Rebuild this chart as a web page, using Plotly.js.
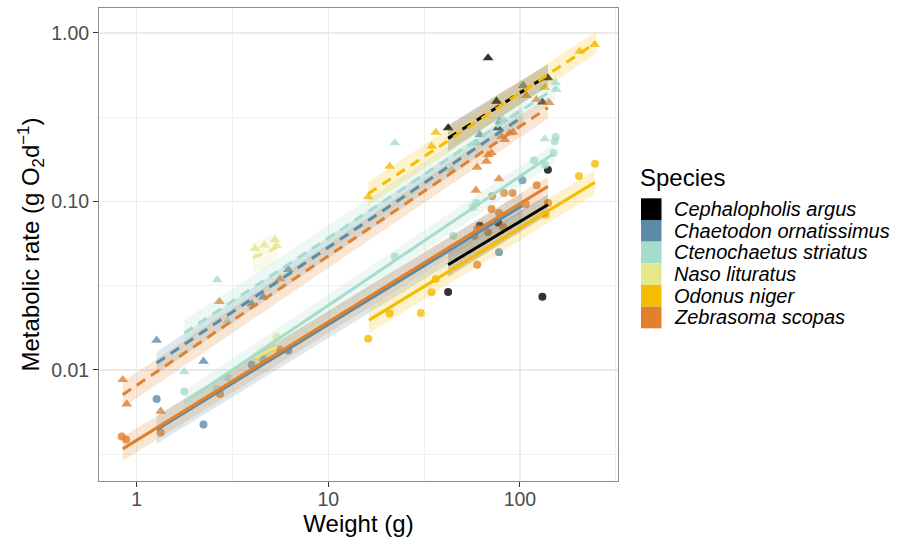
<!DOCTYPE html>
<html><head><meta charset="utf-8">
<script src="https://cdn.plot.ly/plotly-3.0.1.min.js"></script>
<style>html,body{margin:0;padding:0;background:#fff}#chart{width:906px;height:537px}</style>
</head><body><div id="chart"></div>
<script>
// ---------- data ----------
const species = ["Cephalopholis argus","Chaetodon ornatissimus","Ctenochaetus striatus","Naso lituratus","Odonus niger","Zebrasoma scopas"];

// maximum metabolic rate (triangles) and resting rate (circles): weight (g), rate (g O2 d-1)
const cephalopholisMaxW = [42.2, 68.2, 75.5, 76.9, 131, 140];
const cephalopholisMaxR = [0.273, 0.711, 0.393, 0.273, 0.388, 0.541];
const cephalopholisRestW = [42.2, 61.8, 76.9, 131, 140];
const cephalopholisRestR = [0.0290, 0.0718, 0.0751, 0.0272, 0.154];

const chaetodonMaxW = [1.27, 2.23, 3.98, 4.57, 6.18, 61.8, 78.5, 104];
const chaetodonMaxR = [0.0150, 0.01125, 0.0247, 0.0271, 0.0394, 0.249, 0.299, 0.487];
const chaetodonRestW = [1.27, 2.23, 3.98, 4.57, 6.18, 77.8, 103];
const chaetodonRestR = [0.00673, 0.00474, 0.01075, 0.01162, 0.01306, 0.0499, 0.1334];

const ctenochaetusMaxW = [1.77, 2.63, 2.98, 22.2, 44.0, 59.3, 81.7, 134.8, 153.8, 155];
const ctenochaetusMaxR = [0.00977, 0.0343, 0.0194, 0.2224, 0.1544, 0.2224, 0.306, 0.235, 0.505, 0.4607];
const ctenochaetusRestW = [1.77, 2.61, 2.98, 22.2, 44.8, 57.0, 59.3, 118.6, 135.3, 150.2, 152, 153.8];
const ctenochaetusRestR = [0.00746, 0.00771, 0.00904, 0.0472, 0.0626, 0.0927, 0.098, 0.1753, 0.1653, 0.194, 0.2274, 0.2414];

const nasoMaxW = [4.14, 4.63, 5.27, 5.37];
const nasoMaxR = [0.0525, 0.0550, 0.0593, 0.0546];
const nasoRestW = [4.23, 4.71, 5.06, 5.37];
const nasoRestR = [0.01204, 0.01289, 0.0135, 0.0157];

const odonusMaxW = [16.15, 20.9, 34.6, 36.4, 134.8, 205, 245.6];
const odonusMaxR = [0.1063, 0.1615, 0.2123, 0.257, 0.4735, 0.778, 0.852];
const odonusRestW = [16.15, 20.9, 30.4, 34.6, 36.4, 136.5, 203.5, 246.6];
const odonusRestR = [0.01534, 0.0216, 0.0218, 0.0289, 0.0347, 0.0835, 0.1417, 0.1676];

const zebrasomaMaxW = [0.845, 0.887, 1.334, 2.70, 5.59, 58.9, 59.8, 66.9, 68.2, 71.1, 77.8, 80.2, 83.4, 88.5, 92.1, 108.2, 122, 142];
const zebrasomaMaxR = [0.00875, 0.00628, 0.00568, 0.0254, 0.0347, 0.1164, 0.1594, 0.173, 0.1895, 0.194, 0.136, 0.2433, 0.2327, 0.255, 0.257, 0.4246, 0.402, 0.386];
const zebrasomaRestW = [0.835, 0.88, 1.334, 2.72, 5.59, 57.7, 59.8, 59.8, 68.2, 71.1, 71.6, 77.8, 81.7, 82.7, 91.5, 107.3, 122.4, 140.3];
const zebrasomaRestR = [0.00403, 0.00386, 0.00426, 0.0072, 0.0132, 0.0626, 0.0687, 0.0421, 0.0656, 0.0902, 0.1072, 0.0855, 0.0706, 0.1123, 0.1123, 0.0967, 0.1246, 0.098];

const maxW = [cephalopholisMaxW, chaetodonMaxW, ctenochaetusMaxW, nasoMaxW, odonusMaxW, zebrasomaMaxW];
const maxR = [cephalopholisMaxR, chaetodonMaxR, ctenochaetusMaxR, nasoMaxR, odonusMaxR, zebrasomaMaxR];
const restW = [cephalopholisRestW, chaetodonRestW, ctenochaetusRestW, nasoRestW, odonusRestW, zebrasomaRestW];
const restR = [cephalopholisRestR, chaetodonRestR, ctenochaetusRestR, nasoRestR, odonusRestR, zebrasomaRestR];

// fitted lines with confidence bands (species index, kind, start/end weight, fit, lower, upper)
const fitSpecies = [0, 1, 2, 3, 4, 5, 0, 1, 2, 3, 4, 5];
const fitKind    = ["max","max","max","max","max","max","rest","rest","rest","rest","rest","rest"];
const fitW0  = [42.2, 1.27, 1.77, 4.04, 16.15, 0.845, 42.2, 1.27, 1.77, 4.14, 16.3, 0.845];
const fitW1  = [140, 104, 154, 5.39, 251, 140, 140, 103, 150, 5.39, 246, 140];
const fitR0  = [0.2368, 0.0110, 0.01658, 0.0464, 0.1112, 0.00713, 0.0421, 0.00442, 0.00642, 0.01178, 0.01975, 0.0034];
const fitR1  = [0.5616, 0.320, 0.4735, 0.0532, 0.8794, 0.3602, 0.0957, 0.0944, 0.1922, 0.0138, 0.1298, 0.1229];
const fitLo0 = [0.198, 0.00947, 0.01389, 0.0378, 0.0944, 0.00597, 0.0357, 0.00365, 0.00545, 0.01028, 0.01654, 0.00289];
const fitHi0 = [0.283, 0.01278, 0.0198, 0.0570, 0.131, 0.00851, 0.0496, 0.00535, 0.00756, 0.0135, 0.02358, 0.00401];
const fitLo1 = [0.483, 0.279, 0.402, 0.0433, 0.757, 0.310, 0.0835, 0.0791, 0.1677, 0.01204, 0.1102, 0.1072];
const fitHi1 = [0.653, 0.367, 0.558, 0.0653, 1.022, 0.4186, 0.1097, 0.1127, 0.2202, 0.01582, 0.1529, 0.1408];

const xTickVals = [1, 10, 100];
const xTickText = ["1", "10", "100"];
const yTickVals = [0.01, 0.1, 1];
const yTickText = ["0.01", "0.10", "1.00"];

// ---------- styles ----------
const colors = [[0,0,0],[90,140,168],[166,220,203],[229,232,138],[245,188,0],[226,128,44]];
const rgba = (c, a) => `rgba(${c[0]},${c[1]},${c[2]},${a})`;
const FONT = "Liberation Sans, Arial, Helvetica, sans-serif";

const traces = [];
// points
for (let s = 0; s < species.length; s++) {
  traces.push({type:"scatter", mode:"markers", x:maxW[s], y:maxR[s], showlegend:false, hoverinfo:"skip",
    marker:{symbol:"triangle-up", size:9.5, color:rgba(colors[s],0.8), line:{width:0}}});
  traces.push({type:"scatter", mode:"markers", x:restW[s], y:restR[s], showlegend:false, hoverinfo:"skip",
    marker:{symbol:"circle", size:8, color:rgba(colors[s],0.8), line:{width:0}}});
}
// ribbons + lines
for (let i = 0; i < fitSpecies.length; i++) {
  const c = colors[fitSpecies[i]];
  traces.push({type:"scatter", mode:"lines", showlegend:false, hoverinfo:"skip",
    x:[fitW0[i], fitW1[i], fitW1[i], fitW0[i]],
    y:[fitLo0[i], fitLo1[i], fitHi1[i], fitHi0[i]],
    fill:"toself", fillcolor:rgba(c,0.2), line:{width:0}});
}
for (let i = 0; i < fitSpecies.length; i++) {
  const c = colors[fitSpecies[i]];
  traces.push({type:"scatter", mode:"lines", showlegend:false, hoverinfo:"skip",
    x:[fitW0[i], fitW1[i]], y:[fitR0[i], fitR1[i]],
    line:{color:rgba(c,1), width:3, dash: fitKind[i] === "max" ? "10px,7px" : "solid"}});
}

// manual legend
const shapes = [], annotations = [];
const pw = 519, ph = 473;  // plot area size
const px = v => (v - 99) / pw, py = v => (481 - v) / ph;
annotations.push({xref:"paper", yref:"paper", x:px(638), y:py(177), xanchor:"left", yanchor:"middle",
  text:"Species", showarrow:false, font:{family:FONT, size:24, color:"#000"}});
const rowH = 21.67, top0 = 198.3;
species.forEach((name, i) => {
  shapes.push({type:"rect", xref:"paper", yref:"paper", x0:px(641), x1:px(661.5),
    y0:py(top0 + i*rowH), y1:py(top0 + (i+1)*rowH), fillcolor:rgba(colors[i],1), line:{width:0}});
  annotations.push({xref:"paper", yref:"paper", x:px(672), y:py(top0 + (i+0.5)*rowH), xanchor:"left", yanchor:"middle",
    text:"<i>" + name + "</i>", showarrow:false, font:{family:FONT, size:20, color:"#000"}});
});

const layout = {
  width:906, height:537,
  margin:{l:99, r:288, t:8, b:56},
  paper_bgcolor:"#fff", plot_bgcolor:"#fff",
  font:{family:FONT},
  showlegend:false,
  xaxis:{type:"log", range:[-0.197, 2.512], tickmode:"array", tickvals:xTickVals, ticktext:xTickText,
    ticks:"outside", ticklen:5, tickcolor:"#333", tickwidth:1, ticklabelstandoff:-4,
    tickfont:{family:FONT, size:19.5, color:"#4d4d4d"},
    showgrid:true, gridcolor:"#ebebeb", gridwidth:1.4,
    minor:{tickmode:"array", tickvals:[3.1623, 31.623, 316.23], showgrid:true, gridcolor:"#f0f0f0", gridwidth:1, ticks:""},
    showline:true, linecolor:"#8c8c8c", linewidth:1, mirror:true, zeroline:false,
    title:{text:"Weight (g)", font:{family:FONT, size:24, color:"#000"}, standoff:4}},
  yaxis:{type:"log", range:[-2.659, 0.148], tickmode:"array", tickvals:yTickVals, ticktext:yTickText,
    ticks:"outside", ticklen:5, tickcolor:"#333", tickwidth:1,
    tickfont:{family:FONT, size:19.5, color:"#4d4d4d"},
    showgrid:true, gridcolor:"#ebebeb", gridwidth:1.4,
    minor:{tickmode:"array", tickvals:[0.0031623, 0.031623, 0.31623], showgrid:true, gridcolor:"#f0f0f0", gridwidth:1, ticks:""},
    showline:true, linecolor:"#8c8c8c", linewidth:1, mirror:true, zeroline:false,
    title:{text:"Metabolic rate (g O<sub>2</sub>d<sup>\u22121</sup>)", font:{family:FONT, size:24, color:"#000"}, standoff:4}},
  shapes:shapes, annotations:annotations
};

Plotly.newPlot("chart", traces, layout, {staticPlot:true, displayModeBar:false});
</script>
</body></html>
